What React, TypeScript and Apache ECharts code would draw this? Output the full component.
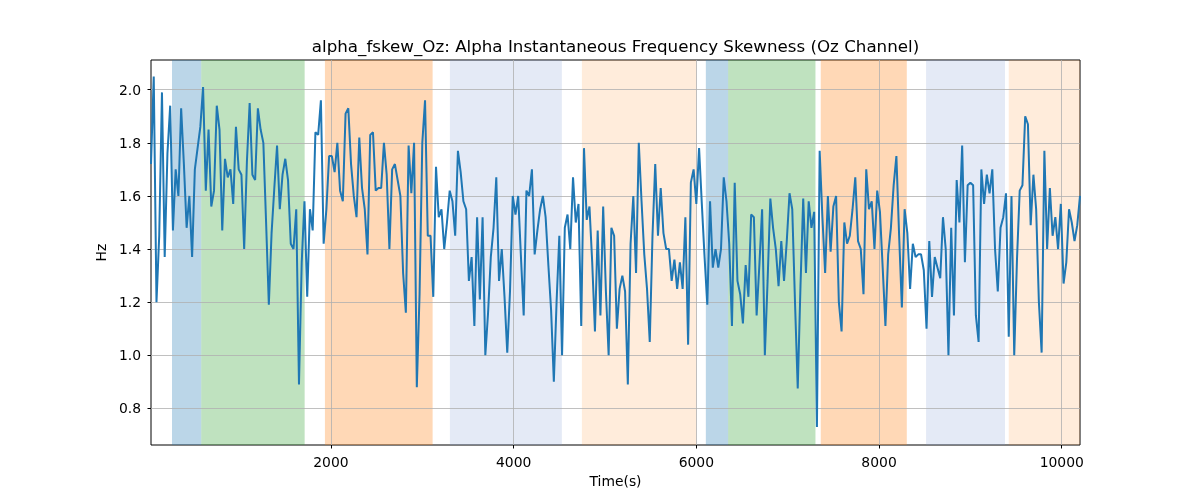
import React, { useEffect, useRef } from "react";
import * as echarts from "echarts";

const TITLE = "alpha_fskew_Oz: Alpha Instantaneous Frequency Skewness (Oz Channel)";
const X_LABEL = "Time(s)";
const Y_LABEL = "Hz";

const T_START = 30;
const T_STEP = 30;
const X_MIN = 30;
const X_MAX = 10200;
const Y_MIN = 0.662;
const Y_MAX = 2.112;
const X_TICKS = [2000, 4000, 6000, 8000, 10000];
const Y_TICKS = [0.8, 1.0, 1.2, 1.4, 1.6, 1.8, 2.0];

const VALUES = [
  1.72, 2.05, 1.2, 1.45, 1.99, 1.37, 1.76, 1.94, 1.47, 1.7, 1.6, 1.93, 1.72, 1.48, 1.6, 1.37, 1.7, 1.78, 1.86, 2.01,
  1.62, 1.85, 1.56, 1.62, 1.94, 1.85, 1.47, 1.74, 1.67, 1.7, 1.57, 1.86, 1.7, 1.68, 1.4, 1.73, 1.95, 1.68, 1.66, 1.93,
  1.85, 1.8, 1.5, 1.19, 1.46, 1.63, 1.79, 1.55, 1.68, 1.74, 1.66, 1.42, 1.4, 1.55, 0.89, 1.35, 1.58, 1.22, 1.55, 1.47,
  1.84, 1.83, 1.96, 1.42, 1.55, 1.75, 1.75, 1.69, 1.8, 1.62, 1.58, 1.91, 1.93, 1.72, 1.6, 1.52, 1.82, 1.63, 1.55, 1.38,
  1.83, 1.84, 1.62, 1.63, 1.63, 1.8, 1.68, 1.4, 1.7, 1.72, 1.66, 1.6, 1.31, 1.16, 1.79, 1.61, 1.8, 0.88, 1.23, 1.8,
  1.96, 1.45, 1.45, 1.22, 1.71, 1.52, 1.55, 1.4, 1.5, 1.62, 1.58, 1.45, 1.77, 1.69, 1.58, 1.55, 1.28, 1.37, 1.11, 1.52,
  1.21, 1.52, 1.0, 1.16, 1.37, 1.48, 1.67, 1.28, 1.4, 1.22, 1.01, 1.24, 1.6, 1.53, 1.6, 1.37, 1.15, 1.62, 1.6, 1.7,
  1.38, 1.47, 1.55, 1.6, 1.52, 1.34, 1.17, 0.9, 1.2, 1.45, 1.0, 1.48, 1.53, 1.4, 1.67, 1.5, 1.57, 1.11, 1.78, 1.51,
  1.56, 1.35, 1.09, 1.47, 1.15, 1.56, 1.24, 1.0, 1.48, 1.45, 1.1, 1.25, 1.3, 1.24, 0.89, 1.42, 1.6, 1.31, 1.8, 1.58,
  1.38, 1.25, 1.05, 1.45, 1.72, 1.45, 1.63, 1.46, 1.4, 1.4, 1.28, 1.36, 1.25, 1.35, 1.25, 1.52, 1.04, 1.65, 1.7, 1.57,
  1.78, 1.57, 1.37, 1.19, 1.58, 1.33, 1.4, 1.33, 1.4, 1.67, 1.58, 1.42, 1.11, 1.65, 1.28, 1.23, 1.12, 1.34, 1.22, 1.53,
  1.52, 1.15, 1.34, 1.55, 1.0, 1.28, 1.59, 1.48, 1.4, 1.26, 1.43, 1.28, 1.43, 1.61, 1.55, 1.2, 0.875, 1.26, 1.59, 1.31,
  1.58, 1.48, 1.54, 0.73, 1.77, 1.52, 1.31, 1.6, 1.39, 1.56, 1.6, 1.2, 1.09, 1.5, 1.42, 1.45, 1.55, 1.67, 1.43, 1.4,
  1.23, 1.7, 1.55, 1.58, 1.4, 1.62, 1.54, 1.33, 1.11, 1.38, 1.48, 1.64, 1.75, 1.45, 1.18, 1.55, 1.46, 1.25, 1.42, 1.37,
  1.38, 1.38, 1.32, 1.1, 1.43, 1.22, 1.37, 1.33, 1.29, 1.52, 1.4, 1.0, 1.48, 1.15, 1.66, 1.5, 1.79, 1.35, 1.64, 1.65,
  1.64, 1.15, 1.05, 1.7, 1.57, 1.68, 1.61, 1.7, 1.4, 1.24, 1.48, 1.52, 1.61, 1.07, 1.6, 1.0, 1.36, 1.62, 1.64, 1.9,
  1.87, 1.49, 1.68, 1.55, 1.2, 1.01, 1.77, 1.4, 1.63, 1.45, 1.52, 1.4, 1.57, 1.27, 1.35, 1.55, 1.5, 1.43, 1.49, 1.6,
];

const BAND_STARTS = [260, 580, 1934, 3302, 4747, 6104, 6348, 7362, 8515, 9420];
const BAND_ENDS = [580, 1712, 3113, 4528, 6002, 6348, 7304, 8304, 9379, 10200];
const BAND_COLORS = [
  "rgba(31,119,180,0.3)",
  "rgba(44,160,44,0.3)",
  "rgba(255,127,14,0.3)",
  "rgba(120,150,210,0.2)",
  "rgba(255,127,14,0.15)",
  "rgba(31,119,180,0.3)",
  "rgba(44,160,44,0.3)",
  "rgba(255,127,14,0.3)",
  "rgba(120,150,210,0.2)",
  "rgba(255,127,14,0.15)",
];

const FONT = "DejaVu Sans";

export default function App() {
  const ref = useRef<HTMLDivElement>(null);
  useEffect(() => {
    if (!ref.current) return;
    const chart = echarts.init(ref.current, null, { renderer: "svg" });
    const lineData = VALUES.map((v, i) => [T_START + T_STEP * i, v]);
    const bands = BAND_STARTS.map((s, i) => [
      { xAxis: s, itemStyle: { color: BAND_COLORS[i] } },
      { xAxis: BAND_ENDS[i] },
    ]);
    const gridLines = [
      ...X_TICKS.map((x) => ({ xAxis: x })),
      ...Y_TICKS.map((y) => ({ yAxis: y })),
    ];
    const tickLabel = { color: "#000", fontSize: 13.9, fontFamily: FONT, margin: 10 };
    chart.setOption({
      animation: false,
      grid: {
        left: 151,
        right: 120,
        top: 60,
        bottom: 55,
        show: true,
        borderColor: "#000",
        borderWidth: 1,
        backgroundColor: "transparent",
      },
      graphic: [
        {
          type: "text",
          x: 615.5,
          y: 46,
          style: {
            text: TITLE,
            font: `16.7px "${FONT}"`,
            fill: "#000",
            align: "center",
            verticalAlign: "middle",
          },
        },
      ],
      xAxis: {
        type: "value",
        min: X_MIN,
        max: X_MAX,
        name: X_LABEL,
        nameLocation: "middle",
        nameGap: 29,
        nameTextStyle: { color: "#000", fontSize: 13.9, fontFamily: FONT },
        axisLine: { show: false },
        splitLine: { show: false },
        axisTick: {
          show: true,
          customValues: X_TICKS,
          length: 3.5,
          lineStyle: { color: "#000", width: 1 },
        },
        axisLabel: { ...tickLabel, customValues: X_TICKS, formatter: (v: number) => String(v) },
      },
      yAxis: {
        type: "value",
        min: Y_MIN,
        max: Y_MAX,
        name: Y_LABEL,
        nameLocation: "middle",
        nameGap: 38,
        nameRotate: 90,
        nameTextStyle: { color: "#000", fontSize: 13.9, fontFamily: FONT },
        axisLine: { show: false },
        splitLine: { show: false },
        axisTick: {
          show: true,
          customValues: Y_TICKS,
          length: 3.5,
          lineStyle: { color: "#000", width: 1 },
        },
        axisLabel: { ...tickLabel, customValues: Y_TICKS, formatter: (v: number) => v.toFixed(1) },
      },
      series: [
        {
          type: "line",
          data: lineData,
          showSymbol: false,
          symbol: "none",
          z: 2,
          lineStyle: { color: "#1f77b4", width: 2 },
          markArea: {
            silent: true,
            z: 1,
            data: bands,
          },
          markLine: {
            silent: true,
            z: 1.5,
            symbol: "none",
            label: { show: false },
            lineStyle: { color: "#b0b0b0", width: 0.8, type: "solid" },
            data: gridLines,
          },
        },
      ],
    });
    return () => chart.dispose();
  }, []);
  return (
    <div
      ref={ref}
      style={{ position: "fixed", left: 0, top: 0, width: 1200, height: 500 }}
    />
  );
}
